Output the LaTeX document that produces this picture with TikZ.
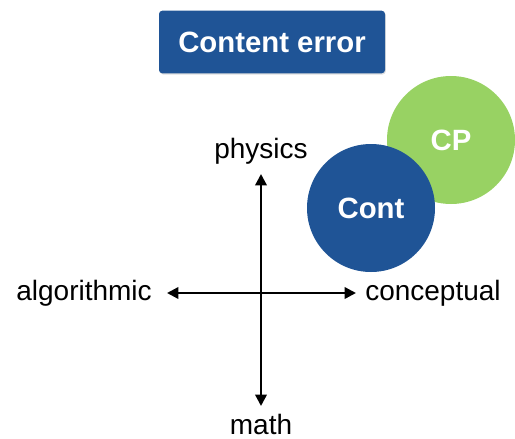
\documentclass[tikz,border=0pt]{standalone}
\usepackage{fontspec}
\setmainfont{Liberation Sans}
\usetikzlibrary{arrows.meta,positioning,shadows}
\definecolor{errblue}{HTML}{1F5496}
\definecolor{cpgreen}{HTML}{98D263}
\tikzset{
  titlebox/.style = {rectangle, rounded corners=2.5pt, fill=errblue, text=white,
    font=\fontsize{22}{26}\selectfont\bfseries, minimum width=169.5pt,
    minimum height=47pt, drop shadow={shadow xshift=0.6pt, shadow yshift=-0.9pt, opacity=0.25}},
  blob/.style = {circle, text=white, font=\fontsize{22}{26}\selectfont\bfseries,
    minimum size=96pt, inner sep=0pt},% filled circle
  axlabel/.style = {font=\fontsize{21}{25}\selectfont, inner sep=0pt},
  axarrow/.style = {{Triangle[length=8.5pt,width=8.5pt]}-{Triangle[length=8.5pt,width=8.5pt]},
    line width=1.8pt}
}
\begin{document}
\begin{tikzpicture}[x=0.75pt,y=-0.75pt]
  \useasboundingbox (0,0) rectangle (515,439);
  % heading
  \node [titlebox] (title) at (272,42) {Content error};
  % the two circles
  \node [blob, fill=cpgreen] (cp) at (451,140) {CP};
  \node [blob, fill=errblue] (cont) at (371,208) {Cont};
  % axes
  \coordinate (west) at (167,293);
  \coordinate (east) at (356,293);
  \coordinate (north) at (261,174);
  \coordinate (south) at (261,406);
  \draw [axarrow] (west) -- (east);
  \draw [axarrow] (north) -- (south);
  \node [axlabel, anchor=south] (phys) at (261,165) {physics};
  \node [axlabel, anchor=north] (math) at (261,414) {math};
  \node [axlabel, anchor=east] (alg) at (152,293) {algorithmic};
  \node [axlabel, anchor=west] (conc) at (365,293) {conceptual};
\end{tikzpicture}
\end{document}
